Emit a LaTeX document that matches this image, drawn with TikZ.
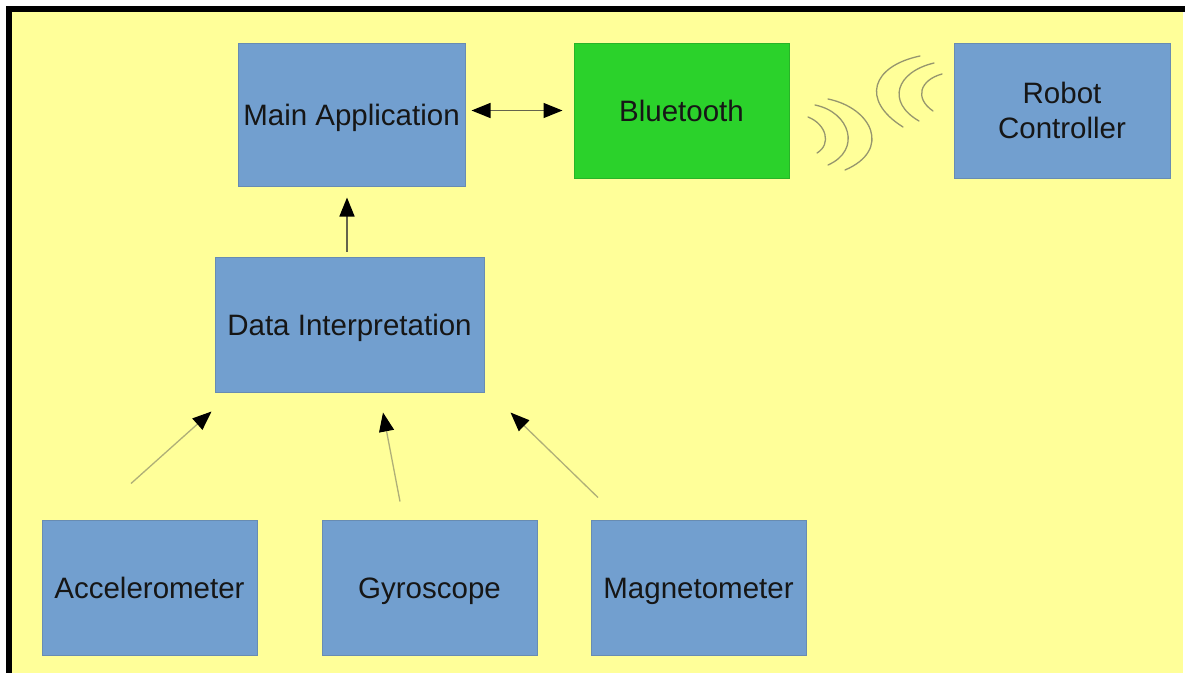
\documentclass[tikz,border=0pt]{standalone}
\usepackage{fontspec}
\setmainfont{Liberation Sans}
\usetikzlibrary{arrows.meta}
\definecolor{paper}{RGB}{255,255,153}
\definecolor{boxblue}{RGB}{114,159,207}
\definecolor{boxedge}{RGB}{104,140,178}
\definecolor{btgreen}{RGB}{43,210,43}
\definecolor{btedge}{RGB}{40,180,40}
\definecolor{txt}{RGB}{22,22,22}
\definecolor{wave}{RGB}{150,150,110}
\definecolor{thinline}{RGB}{175,175,120}
\definecolor{darkline}{RGB}{100,100,75}
\tikzset{
  block/.style={draw=boxedge, fill=boxblue, line width=1pt, text=txt,
    align=center, inner sep=0pt,
    font=\fontsize{29.5}{35}\selectfont},
  oneline/.style={text height=26pt, text depth=4pt},
  sensor/.style={block, oneline, minimum width=215pt, minimum height=135pt},
  head/.tip={Triangle[length=19pt,width=15pt,color=black]},
  tip/.style={-head},
  flow/.style={tip, draw=thinline, line width=1.3pt},
  waveline/.style={draw=wave, line width=1.3pt, line cap=round},
}
\begin{document}
\begin{tikzpicture}[x=1pt, y=-1pt]
  \useasboundingbox (0,0) rectangle (1186,673);
  \fill[white] (0,0) rectangle (1186,673);
  % page frame
  \fill[paper] (12,12) rectangle (1183,673);
  \fill[black] (6,6) rectangle (1185,12);
  \fill[black] (6,6) rectangle (12,673);

  % blocks
  \node[block, oneline, minimum width=227pt, minimum height=143pt] (main) at (351.5,114.5) {Main Application};
  \node[block, oneline, fill=btgreen, draw=btedge, minimum width=215pt, minimum height=135pt] (bt) at (681.5,110.5) {Bluetooth};
  \node[block, minimum width=216pt, minimum height=135pt] (robot) at (1062,110.5) {Robot\\Controller};
  \node[block, oneline, minimum width=269pt, minimum height=135pt] (data) at (349.5,324.5) {Data Interpretation};
  \node[sensor] (acc) at (149.5,587.5) {Accelerometer};
  \node[sensor] (gyro) at (429.5,587.5) {Gyroscope};
  \node[sensor] (mag) at (698.5,587.5) {Magnetometer};

  % links
  \draw[tip, draw=darkline, line width=1.6pt]
    ([xshift=-2.5pt,yshift=5pt]data.north) -- ([xshift=-4.5pt,yshift=-11pt]main.south);
  \draw[head-head, draw=darkline, line width=1.3pt]
    ([xshift=6pt]main.east |- bt.west) -- ([xshift=-11pt]bt.west);
  \draw[flow] ([xshift=-18.5pt,yshift=36pt]acc.north) -- ([xshift=-3pt,yshift=-19pt]data.south west);
  \draw[flow] ([xshift=-29.5pt,yshift=18pt]gyro.north) -- ([xshift=33.5pt,yshift=-20pt]data.south);
  \draw[flow] ([xshift=-100.5pt,yshift=22pt]mag.north) -- ([xshift=26pt,yshift=-20pt]data.south east);

  % radio waves between Bluetooth and the robot
  \draw[waveline] (808,117) .. controls (826,124) and (832,144) .. (817,153);
  \draw[waveline] (815,105) .. controls (850,112) and (862,150) .. (828,165);
  \draw[waveline] (828,99) .. controls (872,108) and (892,150) .. (845,170);
  \draw[waveline] (920,56) .. controls (872,66) and (860,100) .. (903,127);
  \draw[waveline] (934,63) .. controls (896,72) and (886,102) .. (919,121);
  \draw[waveline] (942,74) .. controls (920,80) and (914,98) .. (933,111);
\end{tikzpicture}
\end{document}
